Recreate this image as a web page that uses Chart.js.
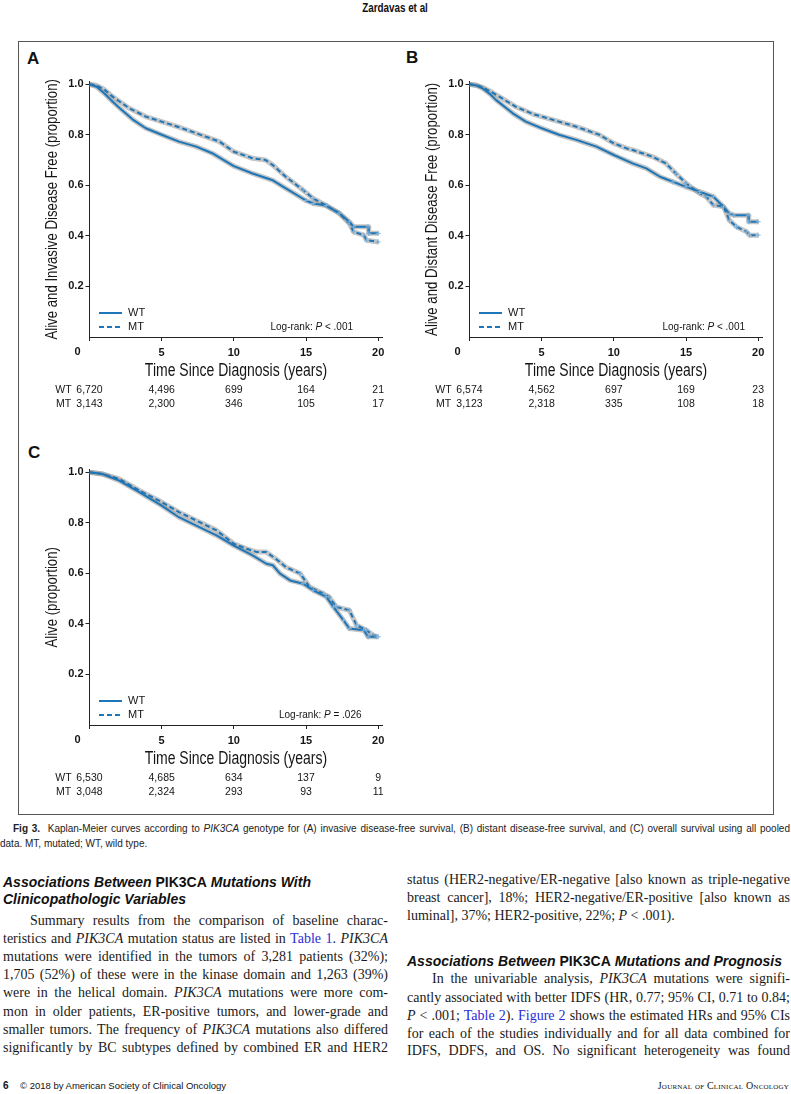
<!DOCTYPE html>
<html><head><meta charset="utf-8">
<script src="https://cdn.jsdelivr.net/npm/chart.js@4.4.1/dist/chart.umd.min.js"></script>
<style>
html,body{margin:0;padding:0;background:#fff}
body{width:791px;height:1094px;position:relative;overflow:hidden;color:#111;font-family:'Liberation Sans',Arial,sans-serif}
.abs{position:absolute}
#frame{left:18px;top:41px;width:756px;height:774px;border:1px solid #555;box-sizing:border-box}
canvas.km{position:absolute}
.plab{position:absolute;font:bold 17px 'Liberation Sans',Arial,sans-serif;line-height:20px}
.ln{position:absolute;height:18px;line-height:18px;overflow:hidden;font:14px 'Liberation Serif','Times New Roman',serif;text-align:justify;text-align-last:justify;color:#1a1a1a}
.ln.last{text-align-last:left}
.hd{position:absolute;height:18px;line-height:18px;font:bold italic 14px 'Liberation Sans',Arial,sans-serif;white-space:nowrap;color:#111}
.hd b{font-style:normal}
a{color:#2b2bd6;text-decoration:none}
.cap{position:absolute;height:14px;line-height:14px;font:10px 'Liberation Sans',Arial,sans-serif;overflow:hidden;color:#222}
#hdr{left:0;width:791px;top:0;text-align:center;line-height:14px}
#hdr span{display:inline-block;font:bold 12px 'Liberation Sans',Arial,sans-serif;transform:scaleX(0.82)}
</style>
</head><body>
<div id="hdr" class="abs"><span>Zardavas et al</span></div>
<div id="frame" class="abs"></div>
<div class="plab" style="left:27px;top:49px">A</div>
<div class="plab" style="left:406px;top:48px">B</div>
<div class="plab" style="left:28px;top:443px">C</div>
<canvas id="cA" class="km" width="370" height="360" style="left:20px;top:60px;width:370px;height:360px"></canvas>
<canvas id="cB" class="km" width="370" height="360" style="left:400px;top:60px;width:370px;height:360px"></canvas>
<canvas id="cC" class="km" width="370" height="360" style="left:20px;top:448px;width:370px;height:360px"></canvas>

<div class="cap" style="left:13px;top:823px;width:777px;text-align:justify;text-align-last:justify"><b>Fig 3.</b>&nbsp; Kaplan-Meier curves according to <i>PIK3CA</i> genotype for (A) invasive disease-free survival, (B) distant disease-free survival, and (C) overall survival using all pooled</div>
<div class="cap" style="left:0;top:838px;width:400px">data. MT, mutated; WT, wild type.</div>

<div class="hd" style="left:3px;top:874px">Associations Between <b>PIK3CA</b> Mutations With</div>
<div class="hd" style="left:3px;top:891px">Clinicopathologic Variables</div>
<div class="ln" style="left:30px;top:913px;width:358px">Summary results from the comparison of baseline charac-</div>
<div class="ln" style="left:3px;top:931px;width:385px">teristics and <i>PIK3CA</i> mutation status are listed in <a>Table 1</a>. <i>PIK3CA</i></div>
<div class="ln" style="left:3px;top:949px;width:385px">mutations were identified in the tumors of 3,281 patients (32%);</div>
<div class="ln" style="left:3px;top:967px;width:385px">1,705 (52%) of these were in the kinase domain and 1,263 (39%)</div>
<div class="ln" style="left:3px;top:985px;width:385px">were in the helical domain. <i>PIK3CA</i> mutations were more com-</div>
<div class="ln" style="left:3px;top:1004px;width:385px">mon in older patients, ER-positive tumors, and lower-grade and</div>
<div class="ln" style="left:3px;top:1022px;width:385px">smaller tumors. The frequency of <i>PIK3CA</i> mutations also differed</div>
<div class="ln" style="left:3px;top:1040px;width:385px">significantly by BC subtypes defined by combined ER and HER2</div>

<div class="ln" style="left:407px;top:872px;width:383px">status (HER2-negative/ER-negative [also known as triple-negative</div>
<div class="ln" style="left:407px;top:890px;width:383px">breast cancer], 18%; HER2-negative/ER-positive [also known as</div>
<div class="ln last" style="left:407px;top:908px;width:383px">luminal], 37%; HER2-positive, 22%; <i>P</i> &lt; .001).</div>
<div class="hd" style="left:407px;top:953px">Associations Between <b>PIK3CA</b> Mutations and Prognosis</div>
<div class="ln" style="left:432px;top:971px;width:358px">In the univariable analysis, <i>PIK3CA</i> mutations were signifi-</div>
<div class="ln" style="left:407px;top:990px;width:383px">cantly associated with better IDFS (HR, 0.77; 95% CI, 0.71 to 0.84;</div>
<div class="ln" style="left:407px;top:1008px;width:383px"><i>P</i> &lt; .001; <a>Table 2</a>). <a>Figure 2</a> shows the estimated HRs and 95% CIs</div>
<div class="ln" style="left:407px;top:1026px;width:383px">for each of the studies individually and for all data combined for</div>
<div class="ln" style="left:407px;top:1043px;width:383px">IDFS, DDFS, and OS. No significant heterogeneity was found</div>

<div class="abs" style="left:3px;top:1079px;font:bold 10px 'Liberation Sans',Arial,sans-serif;line-height:14px">6</div>
<div class="abs" style="left:20px;top:1079px;font:9.5px 'Liberation Sans',Arial,sans-serif;line-height:14px">© 2018 by American Society of Clinical Oncology</div>
<div class="abs" style="right:2px;top:1079px;font:10px 'Liberation Serif',serif;font-variant:small-caps;line-height:14px;letter-spacing:0.2px">Journal of Clinical Oncology</div>

<script>
// ---------- data ----------
const xTicks = [0, 5, 10, 15, 20];
const yTicks = [0.2, 0.4, 0.6, 0.8, 1.0];
const groups = ['WT', 'MT'];
const xTitle = 'Time Since Diagnosis (years)';

// Panel A: invasive disease-free survival
const tA_WT = [0, 0.5, 1.0, 1.5, 2.1, 3.0, 3.9, 5.0, 6.2, 7.4, 8.5, 9.3, 10.0, 11.3, 12.7, 13.6, 15.0, 15.5, 16.4, 17.3, 18.0, 18.3, 19.3, 19.35, 20.0];
const sA_WT = [1.0, 0.99, 0.965, 0.937, 0.905, 0.86, 0.826, 0.80, 0.773, 0.753, 0.727, 0.70, 0.676, 0.647, 0.62, 0.588, 0.54, 0.528, 0.52, 0.49, 0.456, 0.436, 0.436, 0.41, 0.41];
const tA_MT = [0, 0.5, 1.0, 1.6, 2.75, 3.9, 5.0, 6.2, 7.4, 9.0, 10.0, 11.3, 12.2, 12.7, 13.6, 14.8, 15.5, 16.4, 17.3, 18.0, 18.3, 19.0, 19.2, 20.0];
const sA_MT = [1.0, 0.995, 0.98, 0.951, 0.905, 0.872, 0.852, 0.83, 0.806, 0.773, 0.733, 0.707, 0.70, 0.68, 0.634, 0.581, 0.548, 0.52, 0.49, 0.449, 0.416, 0.403, 0.383, 0.376];

// Panel B: distant disease-free survival
const tB_WT = [0, 0.5, 0.9, 1.4, 1.83, 3.0, 3.9, 5.0, 6.2, 7.4, 8.8, 10.0, 11.3, 12.25, 13.2, 14.1, 15.0, 15.95, 16.9, 17.6, 18.0, 18.3, 19.3, 19.35, 20.0];
const sB_WT = [1.0, 0.995, 0.984, 0.962, 0.938, 0.885, 0.852, 0.826, 0.80, 0.78, 0.753, 0.72, 0.687, 0.667, 0.634, 0.614, 0.594, 0.575, 0.555, 0.515, 0.489, 0.482, 0.482, 0.456, 0.456];
const tB_MT = [0, 0.5, 0.9, 1.5, 2.06, 3.2, 4.4, 5.0, 6.2, 7.4, 9.0, 10.0, 10.9, 11.3, 12.7, 13.6, 14.3, 15.0, 15.95, 16.4, 16.9, 17.6, 18.0, 18.5, 19.2, 19.4, 20.0];
const sB_MT = [1.0, 0.996, 0.988, 0.97, 0.951, 0.911, 0.882, 0.872, 0.852, 0.832, 0.80, 0.766, 0.746, 0.74, 0.713, 0.687, 0.647, 0.608, 0.568, 0.555, 0.522, 0.515, 0.462, 0.436, 0.416, 0.403, 0.403];

// Panel C: overall survival
const tC_WT = [0, 0.9, 2.06, 3.45, 5.0, 6.2, 7.4, 8.8, 10.0, 11.3, 12.25, 12.7, 13.2, 13.9, 14.8, 15.5, 16.4, 16.9, 17.6, 18.0, 19.0, 19.3, 19.9];
const sC_WT = [1.0, 0.993, 0.967, 0.921, 0.868, 0.822, 0.789, 0.75, 0.71, 0.671, 0.638, 0.632, 0.599, 0.572, 0.559, 0.533, 0.507, 0.467, 0.414, 0.382, 0.375, 0.349, 0.349];
const tC_MT = [0, 0.9, 2.06, 3.45, 5.0, 6.2, 7.4, 8.8, 10.0, 10.9, 11.6, 12.25, 12.9, 13.6, 14.6, 15.25, 16.2, 16.6, 17.1, 18.0, 18.5, 19.2, 19.65, 20.0];
const sC_MT = [1.0, 0.993, 0.974, 0.928, 0.882, 0.842, 0.809, 0.77, 0.717, 0.697, 0.684, 0.684, 0.658, 0.625, 0.599, 0.546, 0.52, 0.507, 0.467, 0.454, 0.395, 0.375, 0.355, 0.349];

// numbers at risk at xTicks
const riskA_WT = [6720, 4496, 699, 164, 21];
const riskA_MT = [3143, 2300, 346, 105, 17];
const riskB_WT = [6574, 4562, 697, 169, 23];
const riskB_MT = [3123, 2318, 335, 108, 18];
const riskC_WT = [6530, 4685, 634, 137, 9];
const riskC_MT = [3048, 2324, 293, 93, 11];

const pA = '< .001', pB = '< .001', pC = '= .026';
const yTitleA = 'Alive and Invasive Disease Free (proportion)';
const yTitleB = 'Alive and Distant Disease Free (proportion)';
const yTitleC = 'Alive (proportion)';

// ---------- styling ----------
const BLUE = '#1c76b8';
const BAND = 'rgba(150,150,150,0.55)';
const CENSOR = '#7fb0d8';
const SANS = "'Liberation Sans', Arial, sans-serif";
const INK = '#151515';
const SQUEEZE = 0.8;

function pts(t, s) { return t.map((x, i) => ({ x: x, y: s[i] })); }

const kmPlugin = {
  id: 'km',
  afterDraw(chart, args, o) {
    const { ctx, chartArea: a } = chart;
    const xs = chart.scales.x;
    ctx.save();
    ctx.fillStyle = INK;
    // axis titles (condensed)
    ctx.textAlign = 'center';
    ctx.textBaseline = 'middle';
    ctx.save();
    ctx.translate(a.left - 37.5, (a.top + a.bottom) / 2);
    ctx.rotate(-Math.PI / 2);
    ctx.scale(SQUEEZE, 1);
    ctx.font = '16.5px ' + SANS;
    ctx.fillText(o.yTitle, 0, 0);
    ctx.restore();
    ctx.save();
    ctx.translate((a.left + a.right) / 2, a.bottom + 34);
    ctx.scale(SQUEEZE, 1);
    ctx.font = '17.5px ' + SANS;
    ctx.fillText(xTitle, 0, 0);
    ctx.restore();
    // corner "0"
    ctx.font = 'bold 11px ' + SANS;
    ctx.fillText(String(xTicks[0]), a.left - 12, a.bottom + 15);
    // legend
    const sets = chart.data.datasets.filter(d => groups.includes(d.label));
    sets.forEach((d, i) => {
      const y = a.bottom - 24 + i * 14;
      ctx.strokeStyle = d.borderColor;
      ctx.lineWidth = 2;
      ctx.setLineDash(d.borderDash || []);
      ctx.beginPath();
      ctx.moveTo(a.left + 9.5, y);
      ctx.lineTo(a.left + 32.5, y);
      ctx.stroke();
      ctx.setLineDash([]);
      ctx.font = '11px ' + SANS;
      ctx.textAlign = 'left';
      ctx.fillText(d.label, a.left + 38.5, y);
    });
    // log-rank
    const parts = [['Log-rank: ', ''], ['P', 'italic '], [' ' + o.p, '']];
    let total = 0;
    parts.forEach(p => { ctx.font = p[1] + '10px ' + SANS; total += ctx.measureText(p[0]).width; });
    let x0 = a.right - o.lrRight - total;
    const ly = a.bottom - 10;
    ctx.textAlign = 'left';
    parts.forEach(p => {
      ctx.font = p[1] + '10px ' + SANS;
      ctx.fillText(p[0], x0, ly);
      x0 += ctx.measureText(p[0]).width;
    });
    // risk table
    ctx.font = '10.5px ' + SANS;
    ctx.textAlign = 'center';
    o.risk.forEach((row, i) => {
      const y = a.bottom + 53.5 + i * 14;
      ctx.fillText(groups[i], a.left - 26, y);
      row.forEach((n, j) => ctx.fillText(n.toLocaleString('en-US'), xs.getPixelForValue(xTicks[j]), y));
    });
    ctx.restore();
  }
};

function makeChart(id, tw, sw, tm, sm, yTitle, risk, p, lrRight) {
  const censorRadius = c => (c.raw && c.raw.x >= 14 ? 2.5 : 0);
  return new Chart(document.getElementById(id), {
    type: 'line',
    data: {
      datasets: [
        { label: groups[0], data: pts(tw, sw), borderColor: BLUE, borderWidth: 2, order: 0,
          pointRadius: censorRadius, pointStyle: 'cross', pointBorderColor: CENSOR, pointBorderWidth: 1 },
        { label: groups[1], data: pts(tm, sm), borderColor: BLUE, borderWidth: 2, borderDash: [5, 3], order: 0,
          pointRadius: censorRadius, pointStyle: 'cross', pointBorderColor: CENSOR, pointBorderWidth: 1 },
        { label: 'band ' + groups[0], data: pts(tw, sw), borderColor: BAND, borderWidth: 5, pointRadius: 0, order: 1 },
        { label: 'band ' + groups[1], data: pts(tm, sm), borderColor: BAND, borderWidth: 5, pointRadius: 0, order: 1 }
      ]
    },
    options: {
      responsive: false,
      animation: false,
      devicePixelRatio: 1,
      layout: { padding: { left: 0, top: 21.7, right: 7.5, bottom: 0 } },
      elements: { line: { tension: 0, fill: false, borderJoinStyle: 'round' } },
      plugins: {
        legend: { display: false },
        tooltip: { enabled: false },
        km: { risk: risk, p: p, lrRight: lrRight, yTitle: yTitle }
      },
      scales: {
        x: {
          type: 'linear', min: 0, max: 20.3,
          afterBuildTicks: s => { s.ticks = xTicks.map(v => ({ value: v })); },
          afterFit: s => { s.height = 83; },
          ticks: { callback: v => (v === xTicks[0] ? '' : String(v)), padding: 5, color: INK,
                   font: { family: SANS, size: 11, weight: 'bold' }, maxRotation: 0 },
          grid: { display: true, drawOnChartArea: false, drawTicks: true, tickLength: 4, color: '#222' },
          border: { display: true, color: '#222', width: 1 },
          title: { display: false }
        },
        y: {
          type: 'linear', min: 0, max: 1.01,
          afterBuildTicks: s => { s.ticks = yTicks.map(v => ({ value: v })); },
          afterFit: s => { s.width = 69.5; },
          ticks: { callback: v => v.toFixed(1), padding: 2, color: INK,
                   font: { family: SANS, size: 11, weight: 'bold' } },
          grid: { display: true, drawOnChartArea: false, drawTicks: true, tickLength: 4, color: '#222' },
          border: { display: true, color: '#222', width: 1 },
          title: { display: false }
        }
      }
    },
    plugins: [kmPlugin]
  });
}

makeChart('cA', tA_WT, sA_WT, tA_MT, sA_MT, yTitleA, [riskA_WT, riskA_MT], pA, 29.5);
makeChart('cB', tB_WT, sB_WT, tB_MT, sB_MT, yTitleB, [riskB_WT, riskB_MT], pB, 17.5);
makeChart('cC', tC_WT, sC_WT, tC_MT, sC_MT, yTitleC, [riskC_WT, riskC_MT], pC, 21);
</script>
</body></html>
